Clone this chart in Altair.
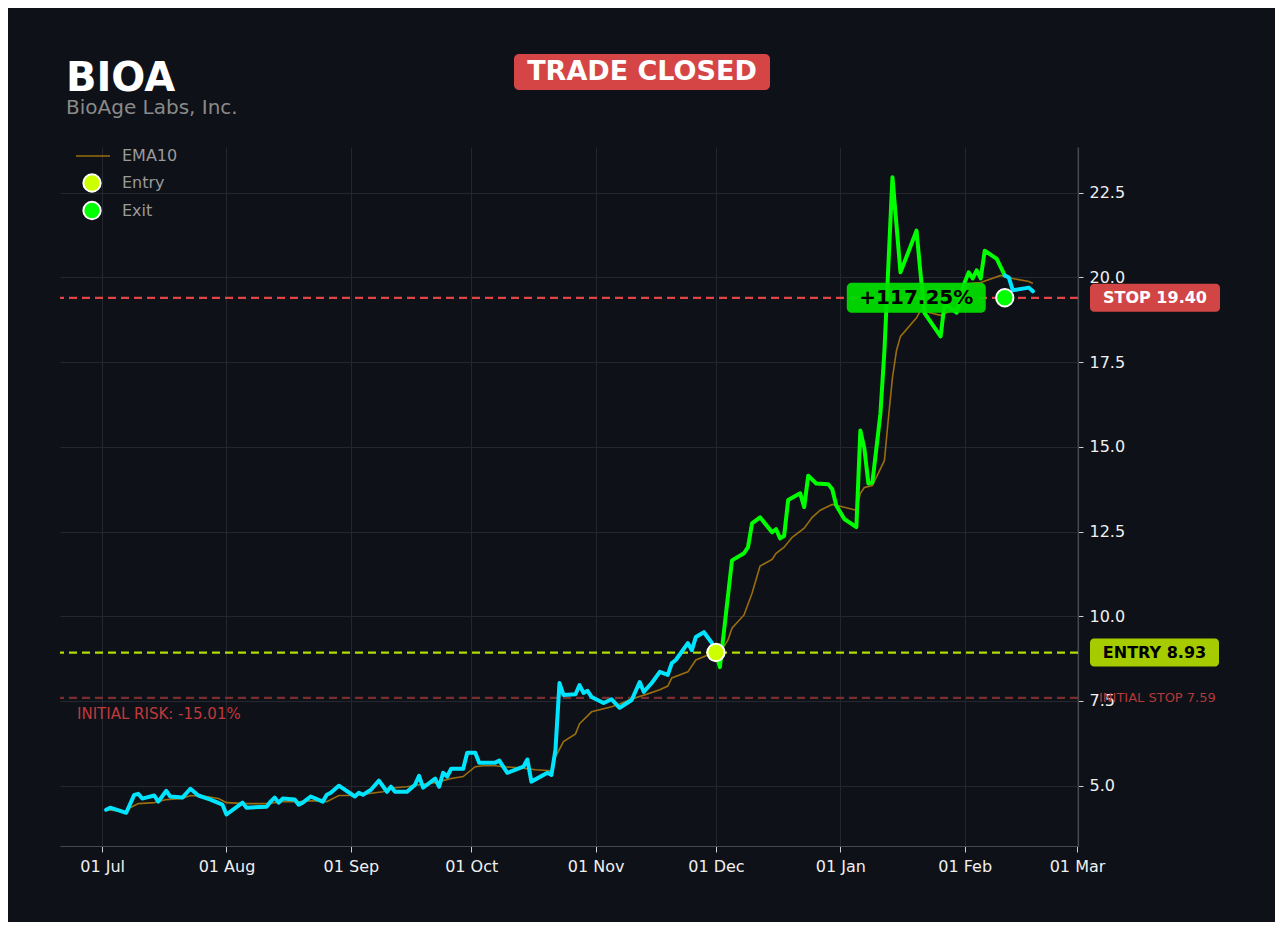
import altair as alt
import pandas as pd

# ---------------- data ----------------
TICKER = "BIOA"
COMPANY = "BioAge Labs, Inc."
STATUS = "TRADE CLOSED"

ENTRY_DATE = "2024-12-01"
ENTRY_PRICE = 8.93
EXIT_DATE = "2025-02-11"
STOP_PRICE = 19.40
INITIAL_STOP = 7.59
RETURN_LABEL = "+117.25%"
RISK_LABEL = "INITIAL RISK: -15.01%"

jul_days = [2, 3, 7, 9, 10, 11, 14, 15, 17, 18, 21, 23, 25, 28, 31]
jul_close = [4.29, 4.35, 4.20, 4.73, 4.76, 4.62, 4.71, 4.53, 4.85, 4.68, 4.65, 4.91, 4.71, 4.59, 4.44]
aug_days = [1, 5, 6, 11, 12, 13, 14, 15, 18, 19, 20, 22, 25, 26, 27, 29]
aug_close = [4.15, 4.50, 4.35, 4.38, 4.53, 4.65, 4.50, 4.62, 4.59, 4.44, 4.50, 4.68, 4.53, 4.73, 4.79, 5.00]
sep_days = [2, 3, 4, 6, 8, 10, 11, 12, 15, 17, 18, 19, 22, 23, 24, 25, 26, 29, 30]
sep_close = [4.68, 4.79, 4.73, 4.88, 5.15, 4.82, 4.97, 4.82, 4.82, 5.03, 5.29, 4.94, 5.21, 4.97, 5.38, 5.27, 5.50, 5.50, 5.97]
oct_days = [2, 3, 7, 8, 10, 14, 15, 16, 20, 21, 22, 23, 24, 27, 28, 29, 30, 31]
oct_close = [5.97, 5.68, 5.68, 5.74, 5.38, 5.56, 5.77, 5.12, 5.38, 5.32, 6.06, 8.03, 7.68, 7.70, 7.97, 7.74, 7.80, 7.62]
nov_days = [3, 5, 7, 10, 12, 13, 15, 17, 19, 20, 21, 24, 25, 26, 28, 30]
nov_close = [7.44, 7.55, 7.30, 7.53, 8.06, 7.77, 8.03, 8.36, 8.27, 8.62, 8.71, 9.21, 9.00, 9.39, 9.53, 9.21]
dec_days = [1, 2, 5, 8, 9, 10, 12, 15, 16, 17, 18, 19, 22, 23, 24, 26, 29, 30, 31]
dec_close = [8.93, 8.50, 11.65, 11.86, 12.04, 12.74, 12.92, 12.48, 12.57, 12.30, 12.37, 13.43, 13.63, 13.22, 14.15, 13.92, 13.90, 13.75, 13.27]
jan_days = [2, 5, 6, 7, 8, 9, 11, 12, 14, 16, 20, 21, 22, 26, 27, 30]
jan_close = [12.87, 12.63, 15.48, 14.95, 13.92, 13.95, 15.98, 17.84, 22.96, 20.15, 21.38, 20.12, 18.95, 18.26, 19.23, 18.96]
feb_days = [1, 2, 3, 4, 5, 6, 9, 11, 12, 13, 17, 18]
feb_close = [19.85, 20.15, 19.97, 20.21, 19.97, 20.79, 20.55, 20.06, 20.00, 19.62, 19.70, 19.59]

ema_jul_days = [2, 7, 8, 10, 14, 17, 21, 23, 27, 30]
ema_jul = [4.29, 4.23, 4.35, 4.47, 4.50, 4.59, 4.62, 4.71, 4.68, 4.62]
ema_aug_days = [1, 6, 11, 15, 20, 22, 26, 29]
ema_aug = [4.50, 4.47, 4.47, 4.53, 4.53, 4.56, 4.53, 4.71]
ema_sep_days = [2, 7, 9, 12, 15, 18, 22, 26, 29]
ema_sep = [4.71, 4.79, 4.82, 4.94, 4.97, 5.03, 5.09, 5.21, 5.27]
ema_oct_days = [2, 4, 7, 9, 13, 17, 21, 22, 24, 27, 28, 31]
ema_oct = [5.56, 5.59, 5.59, 5.56, 5.53, 5.47, 5.44, 5.85, 6.30, 6.53, 6.83, 7.18]
ema_nov_days = [2, 5, 7, 10, 14, 17, 19, 20, 24, 26, 29]
ema_nov = [7.24, 7.33, 7.41, 7.56, 7.71, 7.83, 7.94, 8.18, 8.36, 8.71, 8.86]
ema_dec_days = [2, 4, 5, 8, 10, 12, 15, 16, 18, 20, 23, 25, 27, 30]
ema_dec = [8.92, 9.30, 9.65, 10.04, 10.68, 11.48, 11.68, 11.86, 12.04, 12.33, 12.60, 12.92, 13.13, 13.30]
ema_jan_days = [2, 5, 6, 7, 9, 12, 13, 14, 15, 16, 20, 21, 26, 30]
ema_jan = [13.22, 13.13, 13.63, 13.80, 13.86, 14.60, 15.86, 17.04, 17.84, 18.26, 18.81, 19.03, 18.88, 19.09]
ema_feb_days = [2, 5, 10, 13, 17, 18]
ema_feb = [19.82, 19.85, 20.06, 19.97, 19.88, 19.82]

month_ticks = [(2024, 7), (2024, 8), (2024, 9), (2024, 10), (2024, 11), (2024, 12), (2025, 1), (2025, 2), (2025, 3)]
y_ticks = [5.0, 7.5, 10.0, 12.5, 15.0, 17.5, 20.0, 22.5]

# ---------------- styling ----------------
BG = "#0e1117"
FONT = "DejaVu Sans"
CYAN = "#00e5ff"
GREEN = "#00ff00"
EMA_COL = "#a8780e"
ENTRY_COL = "#ccff00"
STOP_COL = "#e04444"
ISTOP_COL = "#7a2e2e"


def month_dates(ym, days):
    y, m = ym
    return [f"{y}-{m:02d}-{d:02d}" for d in days]


dates = (month_dates((2024, 7), jul_days) + month_dates((2024, 8), aug_days) + month_dates((2024, 9), sep_days)
         + month_dates((2024, 10), oct_days) + month_dates((2024, 11), nov_days) + month_dates((2024, 12), dec_days)
         + month_dates((2025, 1), jan_days) + month_dates((2025, 2), feb_days))
closes = jul_close + aug_close + sep_close + oct_close + nov_close + dec_close + jan_close + feb_close

ema_dates = (month_dates((2024, 7), ema_jul_days) + month_dates((2024, 8), ema_aug_days) + month_dates((2024, 9), ema_sep_days)
             + month_dates((2024, 10), ema_oct_days) + month_dates((2024, 11), ema_nov_days) + month_dates((2024, 12), ema_dec_days)
             + month_dates((2025, 1), ema_jan_days) + month_dates((2025, 2), ema_feb_days))
ema_vals = ema_jul + ema_aug + ema_sep + ema_oct + ema_nov + ema_dec + ema_jan + ema_feb

price = pd.DataFrame({"date": pd.to_datetime(dates), "price": closes})
entry_ts = pd.Timestamp(ENTRY_DATE)
exit_ts = pd.Timestamp(EXIT_DATE)
pre = price[price["date"] <= entry_ts]
trade = price[(price["date"] >= entry_ts) & (price["date"] <= exit_ts)]
post = price[price["date"] >= exit_ts]

ema = pd.DataFrame({"date": pd.to_datetime(ema_dates), "price": ema_vals, "series": "EMA10"})
markers = pd.DataFrame({
    "date": pd.to_datetime([ENTRY_DATE, EXIT_DATE]),
    "price": [ENTRY_PRICE, STOP_PRICE],
    "series": ["Entry", "Exit"],
})


def X():
    return alt.X(
        "date:T",
        title=None,
        scale=alt.Scale(domain=[alt.DateTime(year=2024, month=6, date=20, hours=12),
                                alt.DateTime(year=2025, month=3, date=1, hours=6)]),
        axis=alt.Axis(values=[alt.DateTime(year=y, month=m, date=1) for y, m in month_ticks],
                      format="%d %b", labelPadding=6, tickSize=6),
    )


def Y():
    return alt.Y(
        "price:Q",
        title=None,
        scale=alt.Scale(domain=[3.22, 23.85], nice=False, zero=False),
        axis=alt.Axis(orient="right", values=y_ticks, format=".1f", labelPadding=6, tickSize=5),
    )


legend_common = dict(title=None, orient="none", labelFont=FONT, labelFontSize=16,
                     labelColor="#9a9a9a", padding=0)

ema_stroke = alt.Stroke(
    "series:N",
    scale=alt.Scale(domain=["EMA10"], range=[EMA_COL]),
    legend=alt.Legend(legendX=15, legendY=-9, symbolType="stroke", symbolSize=1156,
                      symbolStrokeWidth=1.6, labelOffset=11, **legend_common),
)

marker_fill = alt.Fill(
    "series:N",
    scale=alt.Scale(domain=["Entry", "Exit"], range=[ENTRY_COL, GREEN]),
    legend=alt.Legend(legendX=22, legendY=26, symbolType="circle", symbolSize=300,
                      symbolStrokeColor="#ffffff", symbolStrokeWidth=2, symbolOpacity=1,
                      labelOffset=20, rowPadding=1.5, **legend_common),
)

initial_stop_rule = alt.Chart(pd.DataFrame({"price": [INITIAL_STOP]})).mark_rule(
    color=ISTOP_COL, strokeDash=[8, 5], strokeWidth=2.2).encode(y=Y())
entry_rule = alt.Chart(pd.DataFrame({"price": [ENTRY_PRICE]})).mark_rule(
    color=ENTRY_COL, opacity=0.85, strokeDash=[8, 5], strokeWidth=2.2).encode(y=Y())
stop_rule = alt.Chart(pd.DataFrame({"price": [STOP_PRICE]})).mark_rule(
    color=STOP_COL, strokeDash=[8, 5], strokeWidth=2.2).encode(y=Y())

ema_line = alt.Chart(ema).mark_line(strokeWidth=1.6, opacity=0.9).encode(x=X(), y=Y(), stroke=ema_stroke)

line_kw = dict(strokeWidth=4, strokeJoin="round", strokeCap="round")
pre_line = alt.Chart(pre).mark_line(color=CYAN, **line_kw).encode(x=X(), y=Y())
trade_line = alt.Chart(trade).mark_line(color=GREEN, **line_kw).encode(x=X(), y=Y())
post_line = alt.Chart(post).mark_line(color=CYAN, **line_kw).encode(x=X(), y=Y())

pts = alt.Chart(markers).mark_circle(size=300, opacity=1, stroke="#ffffff", strokeWidth=2).encode(
    x=X(), y=Y(), fill=marker_fill)

ret_df = pd.DataFrame({"date": [exit_ts], "price": [STOP_PRICE], "label": [RETURN_LABEL]})
ret_box = alt.Chart(ret_df).mark_rect(width=139, height=30, cornerRadius=5, xOffset=-88.5,
                                      color="#00e000", opacity=0.93).encode(x=X(), y=Y())
ret_text = alt.Chart(ret_df).mark_text(dx=-88.5, font=FONT, fontSize=20, fontWeight="bold",
                                       color="#000000", align="center", baseline="middle").encode(
    x=X(), y=Y(), text="label:N")

stop_df = pd.DataFrame({"price": [STOP_PRICE], "label": [f"STOP {STOP_PRICE:.2f}"]})
stop_box = alt.Chart(stop_df).mark_rect(height=28, cornerRadius=4, color="#d24545").encode(
    x=alt.value(1030), x2=alt.value(1160), y=Y())
stop_text = alt.Chart(stop_df).mark_text(font=FONT, fontSize=16, fontWeight="bold", color="#ffffff",
                                         align="center", baseline="middle").encode(
    x=alt.value(1095), y=Y(), text="label:N")

entry_df = pd.DataFrame({"price": [ENTRY_PRICE], "label": [f"ENTRY {ENTRY_PRICE:.2f}"]})
entry_box = alt.Chart(entry_df).mark_rect(height=28, cornerRadius=4, color="#a6cc00").encode(
    x=alt.value(1030), x2=alt.value(1159), y=Y())
entry_text = alt.Chart(entry_df).mark_text(font=FONT, fontSize=16, fontWeight="bold", color="#000000",
                                           align="center", baseline="middle").encode(
    x=alt.value(1094.5), y=Y(), text="label:N")

istop_df = pd.DataFrame({"price": [INITIAL_STOP], "label": [f"INITIAL STOP {INITIAL_STOP:.2f}"],
                         "risk": [RISK_LABEL]})
istop_text = alt.Chart(istop_df).mark_text(font=FONT, fontSize=13, color="#b23a3a",
                                           align="left", baseline="middle").encode(
    x=alt.value(1039), y=Y(), text="label:N")
risk_text = alt.Chart(istop_df).mark_text(font=FONT, fontSize=15, color="#c0393b", dy=16,
                                          align="left", baseline="middle").encode(
    x=alt.value(17), y=Y(), text="risk:N")

head_df = pd.DataFrame({"ticker": [TICKER], "company": [COMPANY], "status": [STATUS]})
ticker_text = alt.Chart(head_df).mark_text(font=FONT, fontSize=40, fontWeight="bold", color="#ffffff",
                                           align="left", baseline="alphabetic").encode(
    x=alt.value(6), y=alt.value(-56), text="ticker:N")
company_text = alt.Chart(head_df).mark_text(font=FONT, fontSize=20, color="#8a8a8a",
                                            align="left", baseline="alphabetic").encode(
    x=alt.value(6), y=alt.value(-33), text="company:N")
status_box = alt.Chart(head_df).mark_rect(cornerRadius=5, color="#d64545").encode(
    x=alt.value(454), x2=alt.value(710), y=alt.value(-93), y2=alt.value(-57))
status_text = alt.Chart(head_df).mark_text(font=FONT, fontSize=27, fontWeight="bold", color="#ffffff",
                                           align="center", baseline="middle").encode(
    x=alt.value(582), y=alt.value(-75), text="status:N")

chart = alt.layer(
    initial_stop_rule, entry_rule, stop_rule,
    ema_line, pre_line, trade_line, post_line,
    ret_box, ret_text, pts,
    stop_box, stop_text, entry_box, entry_text, istop_text, risk_text,
    ticker_text, company_text, status_box, status_text,
).properties(
    width=1018, height=699,
    background=BG,
    padding={"left": 52, "top": 139, "right": 197, "bottom": 76},
    autosize=alt.AutoSizeParams(type="none"),
).configure_view(
    stroke=None, fill=BG,
).configure_axis(
    labelFont=FONT, labelFontSize=16, labelColor="#f0f0f0",
    gridColor="#24272e", gridWidth=1,
    domainColor="#45484f", domainWidth=1.2,
    tickColor="#d0d0d0", tickWidth=1,
)

chart.save("out.html", embed_options={"renderer": "svg", "actions": False})
